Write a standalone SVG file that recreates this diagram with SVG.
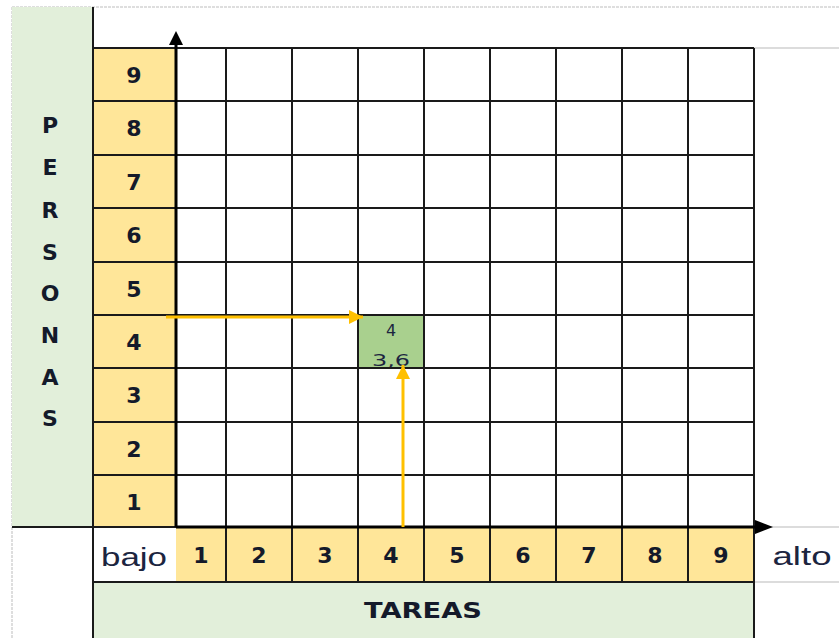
<svg xmlns="http://www.w3.org/2000/svg" width="839" height="638" viewBox="0 0 839 638">
<defs>
<style>
.grid{stroke:#1a1a1a;stroke-width:2;fill:none}
.gray{stroke:#d0d0d0;stroke-width:1.5;fill:none}
.yel{fill:#FFE699}
.grn{fill:#E2EFDA}
.num{font-family:"DejaVu Sans",Verdana,sans-serif;font-weight:bold;font-size:22px;fill:#141a2a;text-anchor:middle}
.let{font-family:"DejaVu Sans",Verdana,sans-serif;font-weight:bold;font-size:22px;fill:#141a2a;text-anchor:middle}
.lbl{font-family:"Liberation Sans",Arial,sans-serif;font-size:25px;fill:#1c2540;text-anchor:middle}
.small{font-family:"DejaVu Sans",Verdana,sans-serif;font-size:16px;fill:#1c2540;text-anchor:middle}
.axis{stroke:#000;stroke-width:3;fill:none}
.orange{stroke:#FFC000;stroke-width:3;fill:none}
</style>
<marker id="oh" viewBox="0 0 10 10" refX="10" refY="5" markerWidth="16" markerHeight="14" markerUnits="userSpaceOnUse" orient="auto">
<path d="M0,0 L10,5 L0,10 z" fill="#FFC000"/>
</marker>
</defs>
<rect x="0" y="0" width="839" height="638" fill="#fff"/>

<g id="frame">
<line x1="12" y1="7" x2="839" y2="7" stroke="#d4d4d4" stroke-width="1.5" stroke-dasharray="3,1"/>
<line x1="12" y1="7" x2="12" y2="638" stroke="#d4d4d4" stroke-width="1.5" stroke-dasharray="3,1"/>
<line x1="754" y1="48" x2="839" y2="48" class="gray"/>
<line x1="754" y1="527" x2="839" y2="527" class="gray"/>
<line x1="754" y1="582" x2="839" y2="582" class="gray"/>
</g>

<g id="personas">
<rect x="12" y="7" width="81" height="520" class="grn"/>
<text class="let" x="50" y="133">P</text>
<text class="let" x="50" y="175">E</text>
<text class="let" x="50" y="218">R</text>
<text class="let" x="50" y="260">S</text>
<text class="let" x="50" y="301">O</text>
<text class="let" x="50" y="343">N</text>
<text class="let" x="50" y="385">A</text>
<text class="let" x="50" y="426">S</text>
</g>

<g id="tareas">
<rect x="93" y="582" width="661" height="56" class="grn"/>
<text x="423" y="618" font-family="DejaVu Sans,Verdana,sans-serif" font-weight="bold" font-size="21" fill="#141a2a" textLength="118" lengthAdjust="spacingAndGlyphs" text-anchor="middle">TAREAS</text>
</g>

<g id="y-scale">
<rect x="93" y="48" width="83" height="479" class="yel"/>
<text class="num" x="134" y="83">9</text>
<text class="num" x="134" y="136">8</text>
<text class="num" x="134" y="190">7</text>
<text class="num" x="134" y="243">6</text>
<text class="num" x="134" y="297">5</text>
<text class="num" x="134" y="350">4</text>
<text class="num" x="134" y="403">3</text>
<text class="num" x="134" y="457">2</text>
<text class="num" x="134" y="510">1</text>
</g>

<g id="x-scale">
<rect x="176" y="527" width="578" height="55" class="yel"/>
<text class="num" x="201" y="563">1</text>
<text class="num" x="259" y="563">2</text>
<text class="num" x="325" y="563">3</text>
<text class="num" x="391" y="563">4</text>
<text class="num" x="457" y="563">5</text>
<text class="num" x="523" y="563">6</text>
<text class="num" x="589" y="563">7</text>
<text class="num" x="655" y="563">8</text>
<text class="num" x="721" y="563">9</text>
</g>

<g id="bajo">
<text class="lbl" x="134" y="566" textLength="66" lengthAdjust="spacingAndGlyphs">bajo</text>
</g>
<g id="alto">
<text class="lbl" x="802" y="565" textLength="59" lengthAdjust="spacingAndGlyphs">alto</text>
</g>

<g id="result-cell">
<rect x="358" y="315" width="66" height="53" fill="#A9D08E"/>
<text class="small" x="391" y="336">4</text>
<text class="small" x="391" y="366" textLength="38" lengthAdjust="spacingAndGlyphs">3,6</text>
</g>

<g id="grid">
<path class="grid" d="M93,48 H754 M93,101 H754 M93,155 H754 M93,208 H754 M93,262 H754 M93,315 H754 M93,368 H754 M93,422 H754 M93,475 H754 M12,527 H176 M93,582 H754"/>
<path class="grid" d="M93,7 V638 M226,48 V582 M292,48 V582 M358,48 V582 M424,48 V582 M490,48 V582 M556,48 V582 M622,48 V582 M688,48 V582 M754,48 V638"/>
</g>

<g id="connectors">
<line class="axis" x1="176" y1="527" x2="176" y2="40"/>
<path d="M176,31 L183,45 L169,45 z" fill="#000"/>
<line class="axis" x1="176" y1="527" x2="762" y2="527"/>
<path d="M773,527 L755,520 L755,534 z" fill="#000"/>
<line class="orange" x1="166" y1="317" x2="363" y2="317" marker-end="url(#oh)"/>
<line class="orange" x1="403" y1="527" x2="403" y2="365" marker-end="url(#oh)"/>
</g>
</svg>
